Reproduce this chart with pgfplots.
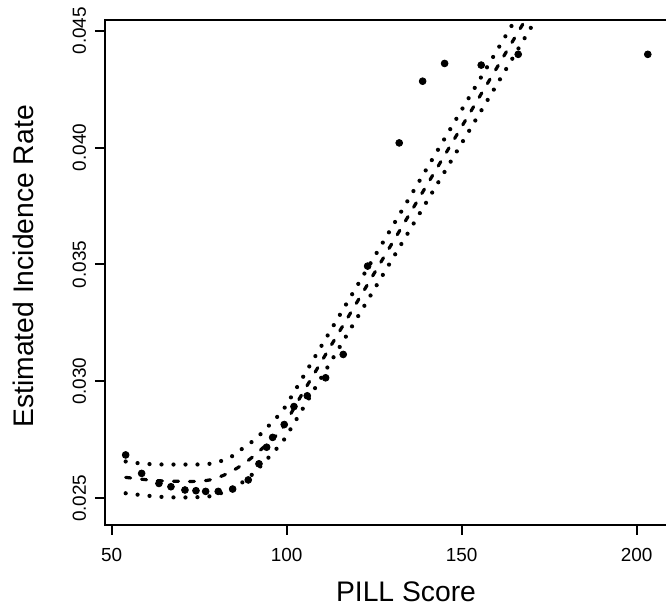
\documentclass[border=0pt]{standalone}
\usepackage{fontspec}
\setmainfont{Liberation Sans}
\usepackage{pgfplots}
\pgfplotsset{compat=1.18}

\begin{document}
\begin{tikzpicture}
\begin{axis}[
  scale only axis, width=282bp, height=252.5bp,
  xmin=48.03, xmax=209.17, ymin=0.023856, ymax=0.04546,
  xtick={50,100,150,200}, ytick={0.025,0.030,0.035,0.040,0.045},
  scaled y ticks=false,
  tick align=outside, tick pos=left, major tick length=5bp,
  axis line style={line width=1bp},
  every tick/.style={black, line width=1bp},
  /pgf/number format/assume math mode=true,
  y tick label style={/pgf/number format/.cd, fixed, fixed zerofill, precision=3, /tikz/.cd},
  yticklabel style={xshift=-4.5bp, rotate=90, anchor=base, inner sep=0pt,
    font=\fontsize{9.5}{11}\selectfont},
  xticklabel style={anchor=base, inner sep=0pt, yshift=-13.4bp,
    font=\fontsize{9.5}{11}\selectfont},
  xlabel={PILL Score}, ylabel={Estimated Incidence Rate},
  every axis x label/.style={at={(rel axis cs:0.5342,-0.1519)}, anchor=base,
    font=\fontsize{14.2}{17}\selectfont},
  every axis y label/.style={at={(rel axis cs:-0.1271,0.512)}, rotate=90, anchor=base,
    font=\fontsize{14.2}{17}\selectfont},
]
% fitted curve
\addplot[black, line width=1.6bp, line cap=round, dash pattern=on 2.5bp off 5.5bp, smooth] coordinates {
(54,0.02589) (58,0.02582) (62,0.02576) (66,0.02573) (70,0.02572) (74,0.02572)
(78,0.02578) (82,0.02598) (86,0.02630) (90,0.02673) (94,0.02726) (98,0.02783)
(100,0.02830) (104,0.02935) (110,0.03086) (120,0.03336) (130,0.03587)
(140,0.03838) (150,0.04089) (160,0.04340) (170,0.04591)};
% upper band
\addplot[black, line width=2.1bp, line cap=round, dash pattern=on 0pt off 6bp, smooth] coordinates {
(54,0.02657) (58,0.02649) (62,0.02645) (66,0.02644) (70,0.02644) (74,0.02644)
(78,0.02647) (81.7,0.02661) (84.7,0.02682) (87.6,0.02715) (90.5,0.02746)
(93.1,0.02782) (95.4,0.02818) (97.9,0.02858) (100,0.02901) (110,0.03153)
(120,0.03405) (130,0.03657) (140,0.03909) (150,0.04161) (160,0.04413) (168,0.04615)};
% lower band
\addplot[black, line width=2.1bp, line cap=round, dash pattern=on 0pt off 6bp, smooth] coordinates {
(54,0.02521) (58,0.02514) (62,0.02508) (66,0.02504) (70,0.02503) (74,0.02504)
(78,0.02508) (81.9,0.02525) (84.5,0.02545) (87.4,0.02568) (90.5,0.02606)
(93.3,0.02649) (95.2,0.02680) (97.9,0.02725) (100,0.02768) (110,0.03018)
(120,0.03268) (130,0.03518) (140,0.03768) (150,0.04018) (160,0.04268)
(170,0.04518) (174,0.04618)};
% observed rates
\addplot[only marks, mark=*, mark size=1.7bp, black] coordinates {
(54.0,0.02685) (58.57,0.02606) (63.51,0.02563) (66.94,0.02549) (70.94,0.02535)
(74.09,0.02532) (76.86,0.02529) (80.46,0.02529) (84.57,0.02539) (89.03,0.02578)
(92.09,0.02647) (94.29,0.02718) (96.0,0.02760) (99.31,0.02815) (102.09,0.02892)
(105.89,0.02938) (111.14,0.03015) (116.17,0.03115) (123.14,0.03493)
(132.17,0.04020) (138.86,0.04284) (145.14,0.04360) (155.6,0.04353)
(166.17,0.04399) (203.2,0.04399)};
\coordinate (bbsw) at (axis cs:18.09,0.020266);
\coordinate (bbne) at (axis cs:208.4,0.046315);
\end{axis}
\pgfresetboundingbox
\useasboundingbox (bbsw) rectangle (bbne);
\end{tikzpicture}
\end{document}
